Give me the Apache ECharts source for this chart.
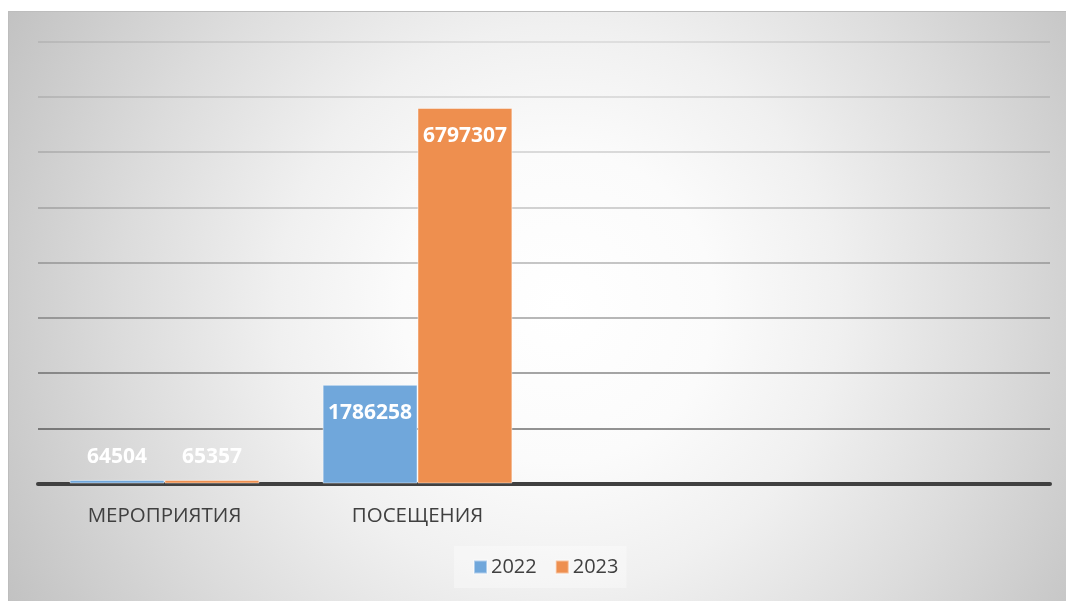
<!DOCTYPE html>
<html><head><meta charset="utf-8">
<script src="https://cdn.jsdelivr.net/npm/echarts@6/dist/echarts.min.js"></script>
<style>
html,body{margin:0;padding:0;background:#fff;width:1066px;height:601px;overflow:hidden;}
#box{position:absolute;left:8px;top:11px;width:1058px;height:590px;box-sizing:border-box;border-top:1px solid #bdbdbd;border-left:1px solid #bdbdbd;
background:radial-gradient(circle farthest-corner at 52% 50%, #ffffff 0%, #fbfbfb 25%, #f0f0f0 45%, #dcdcdc 70%, #c2c2c2 100%);}
#chart{width:1058px;height:590px;}
</style></head>
<body><div id="box"><div id="chart"></div></div>
<script>
const categories = ['МЕРОПРИЯТИЯ', 'ПОСЕЩЕНИЯ', '', ''];
const values2022 = [64504, 1786258];
const values2023 = [65357, 6797307];
const seriesNames = ['2022', '2023'];

const colors = ['#70a7db', '#ee8f4f'];
const font = '"Open Sans", "DejaVu Sans", sans-serif';

function items(vals) {
  return vals.map(v => {
    const small = v < 500000;
    return {
      value: v,
      label: small ? {position: 'top', distance: 12} : {position: 'insideTop', distance: 18}
    };
  });
}

const chart = echarts.init(document.getElementById('chart'), null, {renderer: 'canvas'});
chart.setOption({
  animation: false,
  backgroundColor: 'transparent',
  grid: {left: 29, right: 17, top: 29.5, bottom: 118.5, containLabel: false},
  legend: {
    data: seriesNames,
    left: 445, top: 534,
    itemWidth: 13, itemHeight: 13, itemGap: 18,
    icon: 'rect',
    padding: [11, 8, 11, 19],
    backgroundColor: 'rgba(255,255,255,0.35)',
    textStyle: {fontFamily: font, fontSize: 20, color: '#404040', padding: [0, 0, 0, -1]}
  },
  xAxis: {
    type: 'category',
    data: categories,
    axisLine: {lineStyle: {color: '#404040', width: 4}},
    axisTick: {show: false},
    axisLabel: {fontFamily: font, fontSize: 20.5, color: '#404040', margin: 22, interval: 0}
  },
  yAxis: {
    type: 'value',
    min: 0, max: 8000000, interval: 1000000,
    axisLabel: {show: false},
    axisLine: {show: false},
    axisTick: {show: false},
    splitLine: {lineStyle: {width: 2, color: ['#404040', 'rgba(0,0,0,0.42)', 'rgba(0,0,0,0.35)', 'rgba(0,0,0,0.28)', 'rgba(0,0,0,0.22)', 'rgba(0,0,0,0.17)', 'rgba(0,0,0,0.13)', 'rgba(0,0,0,0.10)', 'rgba(0,0,0,0.08)']}}
  },
  series: [
    {
      name: seriesNames[0], type: 'bar', data: items(values2022),
      barGap: '0%', barCategoryGap: '25%',
      itemStyle: {color: colors[0], borderColor: 'rgba(255,255,255,0.45)', borderWidth: 1},
      label: {show: true, color: '#fff', fontFamily: font, fontWeight: 'bold', fontSize: 21}
    },
    {
      name: seriesNames[1], type: 'bar', data: items(values2023),
      barGap: '0%', barCategoryGap: '25%',
      itemStyle: {color: colors[1], borderColor: 'rgba(255,255,255,0.45)', borderWidth: 1},
      label: {show: true, color: '#fff', fontFamily: font, fontWeight: 'bold', fontSize: 21}
    }
  ]
});
</script>
</body></html>
